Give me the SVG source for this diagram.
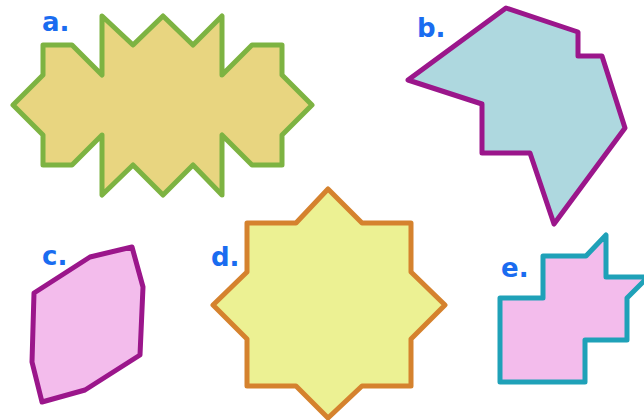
<svg xmlns="http://www.w3.org/2000/svg" width="644" height="420" viewBox="0 0 644 420">
<style>
.shape{stroke-width:5;stroke-linejoin:round}
.lbl{font-family:"DejaVu Sans",sans-serif;font-weight:bold;font-size:26px;fill:#1a6cf0}
</style>
<rect width="644" height="420" fill="#ffffff"/>
<g id="a">
<polygon class="shape" fill="#e8d580" stroke="#7db342" points="13,105 43,75 43,45 72,45 102,75 102,16 133,45 163,16 193,45 222,16 222,75 252,45 282,45 282,75 312,105 282,135 282,165 252,165 222,135 222,195 193,165 163,195 133,165 102,195 102,135 72,165 43,165 43,135"/>
<text class="lbl" x="42" y="31">a.</text>
</g>
<g id="b">
<polygon class="shape" fill="#aed8df" stroke="#9b168b" points="506,8 578,32 578,56 602,56 625,128 554,224 530,153 482,153 482,104 408,80"/>
<text class="lbl" x="417" y="37">b.</text>
</g>
<g id="c">
<polygon class="shape" fill="#f3bcec" stroke="#9b168b" points="132,247 143,287 140,355 85,390 42,402 32,362 34,293 90,257"/>
<text class="lbl" x="42" y="265">c.</text>
</g>
<g id="d">
<polygon class="shape" fill="#ecf193" stroke="#d5822e" points="328,189 362,223 411,223 411,272 445,305 411,339 411,386 362,386 328,418 296,386 247,386 247,339 213,305 247,272 247,223 296,223"/>
<text class="lbl" x="211" y="266">d.</text>
</g>
<g id="e">
<polygon class="shape" fill="#f3bcec" stroke="#1fa1b8" points="500,298 543,298 543,256 586,256 606,235 606,277 648,277 627,298 627,340 585,340 585,382 500,382"/>
<text class="lbl" x="501" y="277">e.</text>
</g>
<g id="connectors"></g>
</svg>
